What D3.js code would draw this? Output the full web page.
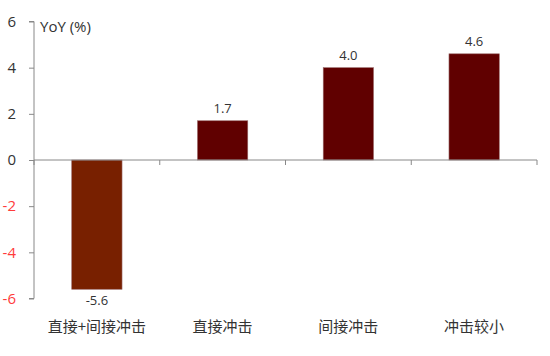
<!DOCTYPE html>
<html><head><meta charset="utf-8">
<script src="https://cdn.jsdelivr.net/npm/d3@7"></script>
<style>body{margin:0;background:#fff;}svg{display:block;}</style>
</head><body>
<script>
const categories = ["直接+间接冲击", "直接冲击", "间接冲击", "冲击较小"];
const values = [-5.6, 1.7, 4.0, 4.6];
const yTicks = [-6, -4, -2, 0, 2, 4, 6];
const barColors = ["#782000", "#600000", "#600000", "#600000"];

const W = 550, H = 356;
const svg = d3.select("body").append("svg").attr("width", W).attr("height", H);
const font = "'Noto Sans CJK SC','Noto Sans',sans-serif";
const numFont = "'Open Sans','Noto Sans',sans-serif";

const x = d3.scaleBand().domain(categories).range([34, 537]).paddingInner(0.6).paddingOuter(0.3);
const y = d3.scaleLinear().domain([-6, 6]).range([298.5, 21.5]);

// y axis
const yAxis = d3.axisLeft(y).tickValues(yTicks).tickSize(5).tickFormat(d => String(d));
const gy = svg.append("g").attr("transform", "translate(34,0)").call(yAxis);
gy.select(".domain").attr("stroke", "#888").attr("d", `M-5,${y(6)}H0V${y(-6)}H-5`);
gy.selectAll(".tick line").attr("stroke", "#888");
gy.selectAll(".tick text").attr("x", -18).attr("font-family", numFont).attr("font-size", 15)
  .attr("fill", d => d < 0 ? "#ff3b3b" : "#333");

// bars
svg.selectAll("rect.bar").data(values).enter().append("rect")
  .attr("class", "bar")
  .attr("x", (d, i) => x(categories[i]))
  .attr("width", x.bandwidth())
  .attr("y", d => y(Math.max(0, d)))
  .attr("height", d => Math.abs(y(d) - y(0)))
  .attr("fill", (d, i) => barColors[i])
  .attr("stroke", "#9a6a6a").attr("stroke-width", 0.6);

// x axis
const step = (537 - 34) / categories.length;
const gx = svg.append("g").attr("transform", `translate(0,${y(0)})`);
gx.append("line").attr("x1", 34).attr("x2", 537).attr("stroke", "#888");
d3.range(categories.length + 1).forEach(i => {
  const xx = 34 + i * step;
  gx.append("line").attr("x1", xx).attr("x2", xx).attr("y1", 0).attr("y2", 5).attr("stroke", "#888");
});

// value labels
svg.selectAll("text.val").data(values).enter().append("text")
  .attr("class", "val")
  .attr("x", (d, i) => x(categories[i]) + x.bandwidth() / 2)
  .attr("y", d => d >= 0 ? y(d) - 8 : y(d) + 16)
  .attr("text-anchor", "middle").attr("font-family", numFont).attr("font-size", 13)
  .attr("fill", "#333").text(d => d.toFixed(1));

// category labels
svg.selectAll("text.cat").data(categories).enter().append("text")
  .attr("class", "cat")
  .attr("x", d => x(d) + x.bandwidth() / 2)
  .attr("y", 332).attr("text-anchor", "middle").attr("font-family", font).attr("font-size", 15)
  .attr("fill", "#333").text(d => d);

svg.append("text").attr("x", 40).attr("y", 32).attr("font-family", numFont).attr("font-size", 15)
  .attr("fill", "#333").text("YoY (%)");
</script>
</body></html>
